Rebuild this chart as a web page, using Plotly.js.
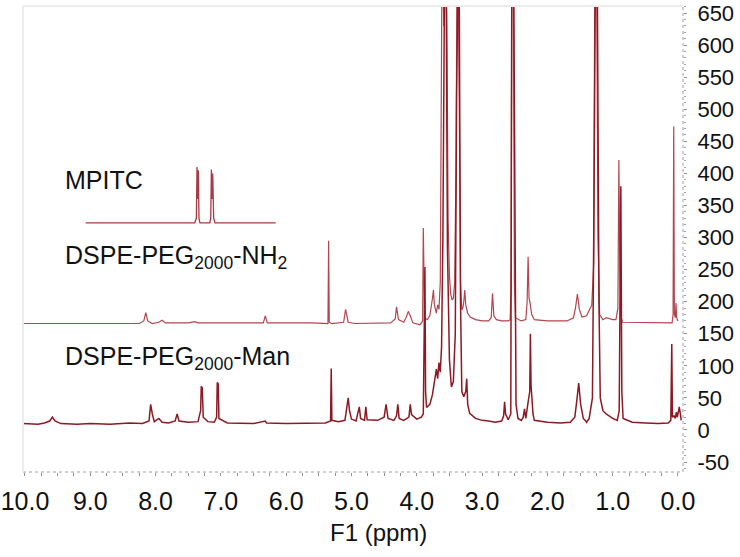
<!DOCTYPE html>
<html>
<head>
<meta charset="utf-8">
<script src="https://cdn.plot.ly/plotly-3.0.1.min.js"></script>
<style>
html,body{margin:0;padding:0;background:#fff;}
#chart{width:740px;height:557px;}
</style>
</head>
<body>
<div id="chart"></div>
<script>
// ---- Data (ppm, intensity) ----
const seriesNames = ["MPITC", "DSPE-PEG<sub>2000</sub>-NH<sub>2</sub>", "DSPE-PEG<sub>2000</sub>-Man"];

const mpitcPpm = [9.07, 7.40, 7.375, 7.365, 7.355, 7.345, 7.335, 7.32, 7.17, 7.155, 7.145, 7.135, 7.125, 7.11, 7.09, 6.16];
const mpitcInt = [323, 323, 330, 410, 360, 405, 330, 323, 323, 330, 406, 360, 400, 330, 323, 323];

const nh2Ppm = [10.03, 9.0, 8.25, 8.18, 8.15, 8.12, 8.05, 7.95, 7.9, 7.85, 7.5, 7.4, 7.35, 6.9, 6.35, 6.32, 6.29, 5.6, 5.36, 5.35, 5.34, 5.3,
  5.12, 5.09, 5.05, 4.95, 4.5, 4.4, 4.33, 4.31, 4.28, 4.2, 4.16, 4.13, 4.10, 4.06, 3.95, 3.91, 3.90, 3.88, 3.84, 3.8, 3.76, 3.745, 3.73,
  3.70, 3.68, 3.66, 3.64, 3.625, 3.615, 3.60, 3.585, 3.57, 3.555, 3.54, 3.52, 3.50, 3.48, 3.46, 3.44, 3.42, 3.40, 3.385, 3.365, 3.35,
  3.33, 3.31, 3.29, 3.28, 3.265, 3.25, 3.22, 3.18, 3.1, 3.0, 2.9, 2.86, 2.84, 2.82, 2.78, 2.7, 2.6, 2.57, 2.555, 2.545, 2.52, 2.505,
  2.49, 2.4, 2.33, 2.31, 2.295, 2.28, 2.265, 2.24, 2.2, 2.0, 1.7, 1.6, 1.57, 1.54, 1.51, 1.47, 1.4, 1.32, 1.29, 1.275, 1.245, 1.225,
  1.2, 1.15, 1.1, 1.0, 0.95, 0.92, 0.905, 0.89, 0.87, 0.85, 0.5, 0.2, 0.09, 0.075, 0.065, 0.055, 0.04, 0.03, 0.02, 0.0];
const nh2Int = [166, 166, 166, 170, 183, 170, 166, 168, 171, 167, 167, 169, 167, 167, 167, 178, 167, 167, 166, 295, 168, 166,
  168, 188, 168, 166, 166, 167, 173, 192, 172, 168, 176, 185, 178, 167, 164, 170, 315, 175, 172, 178, 205, 218, 195,
  182, 195, 188, 230, 525, 700, 700, 630, 700, 700, 650, 327, 240, 212, 203, 205, 230, 400, 700, 700, 520,
  230, 187, 192, 200, 218, 195, 182, 176, 172, 170, 170, 175, 213, 178, 172, 170, 170, 172, 225, 700, 700, 230,
  175, 170, 172, 200, 270, 205, 198, 180, 172, 170, 170, 175, 190, 212, 188, 176, 178, 195, 260, 700, 700, 300,
  180, 172, 175, 172, 172, 190, 421, 250, 175, 168, 168, 167, 167, 180, 473, 180, 175, 198, 175, 170];

const manPpm = [10.03, 9.8, 9.7, 9.62, 9.58, 9.54, 9.45, 9.2, 9.0, 8.7, 8.4, 8.2, 8.1, 8.075, 8.05, 8.02, 7.95, 7.9, 7.8, 7.7, 7.67, 7.64,
  7.5, 7.35, 7.31, 7.30, 7.285, 7.27, 7.2, 7.1, 7.065, 7.055, 7.04, 7.03, 6.9, 6.5, 6.32, 6.3, 6.0, 5.7, 5.4, 5.32, 5.31, 5.30, 5.2,
  5.1, 5.07, 5.05, 5.03, 5.0, 4.93, 4.88, 4.86, 4.80, 4.78, 4.76, 4.6, 4.5, 4.47, 4.44, 4.35, 4.31, 4.29, 4.27, 4.2, 4.12, 4.10, 4.08,
  4.0, 3.93, 3.9, 3.875, 3.865, 3.85, 3.8, 3.76, 3.73, 3.70, 3.68, 3.66, 3.64, 3.62, 3.60, 3.59, 3.575, 3.55, 3.53, 3.50, 3.47, 3.44,
  3.41, 3.39, 3.37, 3.35, 3.33, 3.31, 3.28, 3.25, 3.235, 3.22, 3.19, 3.1, 3.0, 2.9, 2.8, 2.7, 2.67, 2.655, 2.64, 2.6, 2.56, 2.545,
  2.515, 2.48, 2.45, 2.4, 2.37, 2.35, 2.33, 2.30, 2.27, 2.26, 2.25, 2.22, 2.2, 2.0, 1.8, 1.65, 1.58, 1.55, 1.52, 1.49, 1.45, 1.42,
  1.4, 1.36, 1.31, 1.29, 1.265, 1.235, 1.21, 1.19, 1.15, 1.1, 1.0, 0.93, 0.9, 0.875, 0.86, 0.84, 0.7, 0.5, 0.3, 0.15, 0.11, 0.095,
  0.085, 0.06, 0.04, 0.025, 0.01, -0.02, -0.04, -0.05];
const manInt = [10, 9, 11, 14, 20, 14, 10, 9, 10, 9, 11, 10, 14, 40, 25, 13, 18, 12, 11, 14, 25, 14,
  12, 13, 30, 68, 66, 20, 13, 12, 20, 74, 72, 18, 11, 10, 14, 11, 10, 11, 11, 14, 96, 15, 13,
  15, 35, 50, 30, 17, 14, 36, 18, 15, 36, 16, 15, 20, 40, 18, 15, 22, 40, 18, 15, 20, 40, 24,
  17, 20, 25, 254, 60, 35, 40, 55, 75, 95, 80, 105, 90, 130, 300, 445, 700, 700, 283, 110, 67, 75,
  150, 517, 700, 700, 200, 60, 52, 60, 80, 40, 26, 18, 15, 14, 12, 14, 22, 44, 25, 16, 25, 700,
  700, 40, 18, 15, 20, 33, 18, 40, 60, 150, 70, 25, 15, 12, 11, 12, 20, 45, 73, 40, 18, 15,
  12, 18, 50, 300, 700, 700, 200, 50, 30, 25, 18, 15, 30, 380, 60, 18, 12, 11, 10, 11, 15, 134,
  20, 22, 18, 28, 20, 36, 18, 15];

const xTickVals = [10, 9, 8, 7, 6, 5, 4, 3, 2, 1, 0];
const xTickText = ["10.0", "9.0", "8.0", "7.0", "6.0", "5.0", "4.0", "3.0", "2.0", "1.0", "0.0"];
const yTickVals = [-50, 0, 50, 100, 150, 200, 250, 300, 350, 400, 450, 500, 550, 600, 650];
const yTickText = ["-50", "0", "50", "100", "150", "200", "250", "300", "350", "400", "450", "500", "550", "600", "650"];

// ---- Chart ----
const FONT = '"Liberation Sans", Arial, sans-serif';
const traces = [
  {x: nh2Ppm, y: nh2Int, mode: 'lines', line: {color: '#b3454f', width: 1.2}, name: 'NH2', hoverinfo: 'x+y'},
  {x: manPpm, y: manInt, mode: 'lines', line: {color: '#8c1a24', width: 1.5}, name: 'Man', hoverinfo: 'x+y'},
  {x: mpitcPpm, y: mpitcInt, mode: 'lines', line: {color: '#a83a45', width: 1.3}, name: 'MPITC', hoverinfo: 'x+y'}
];

const layout = {
  width: 740, height: 557,
  margin: {l: 23, r: 57, t: 6, b: 85},
  paper_bgcolor: '#fff', plot_bgcolor: '#fff',
  showlegend: false,
  font: {family: FONT, color: '#111'},
  xaxis: {
    range: [10.03, -0.077],
    tickvals: xTickVals, ticktext: xTickText,
    showgrid: false, zeroline: false, showline: false,
    ticks: 'outside', ticklen: 3, tickcolor: '#8a929a', tickwidth: 1,
    minor: {dtick: 0.25, tick0: 0, ticks: 'outside', ticklen: 3, tickcolor: '#8a929a', showgrid: false},
    tickfont: {size: 25, color: '#111', family: FONT},
    ticklabelstandoff: 4
  },
  yaxis: {
    range: [-65.5, 661],
    side: 'right',
    tickvals: yTickVals, ticktext: yTickText,
    showgrid: false, zeroline: false, showline: false,
    ticks: 'outside', ticklen: 3, tickcolor: '#8a929a', tickwidth: 1,
    minor: {dtick: 10, tick0: 0, ticks: 'outside', ticklen: 2, tickcolor: '#9aa2aa', showgrid: false},
    tickfont: {size: 22, color: '#111', family: FONT},
    ticklabelstandoff: 6
  },
  shapes: [
    {type: 'line', xref: 'paper', yref: 'paper', x0: 0, x1: 1, y0: 0, y1: 0, line: {color: '#9aa2aa', width: 1, dash: 'dot'}},
    {type: 'line', xref: 'paper', yref: 'paper', x0: 1, x1: 1, y0: 0, y1: 1, line: {color: '#9aa2aa', width: 1, dash: 'dot'}},
    {type: 'line', xref: 'paper', yref: 'paper', x0: 0, x1: 1, y0: 1, y1: 1, line: {color: '#ececec', width: 2}},
    {type: 'line', xref: 'paper', yref: 'paper', x0: 0, x1: 0, y0: 0, y1: 1, line: {color: '#ececec', width: 2}}
  ],
  annotations: [
    {x: 9.42, y: 390, xref: 'x', yref: 'y', text: seriesNames[0], showarrow: false, xanchor: 'left', yanchor: 'middle', font: {size: 25, color: '#111', family: FONT}},
    {x: 9.42, y: 270, xref: 'x', yref: 'y', text: seriesNames[1], showarrow: false, xanchor: 'left', yanchor: 'middle', font: {size: 25, color: '#111', family: FONT}},
    {x: 9.42, y: 112, xref: 'x', yref: 'y', text: seriesNames[2], showarrow: false, xanchor: 'left', yanchor: 'middle', font: {size: 25, color: '#111', family: FONT}},
    {x: 0.538, y: -0.13, xref: 'paper', yref: 'paper', text: 'F1 (ppm)', showarrow: false, xanchor: 'center', yanchor: 'middle', font: {size: 24, color: '#111', family: FONT}}
  ]
};

Plotly.newPlot('chart', traces, layout, {displayModeBar: false, staticPlot: true});
</script>
</body>
</html>
